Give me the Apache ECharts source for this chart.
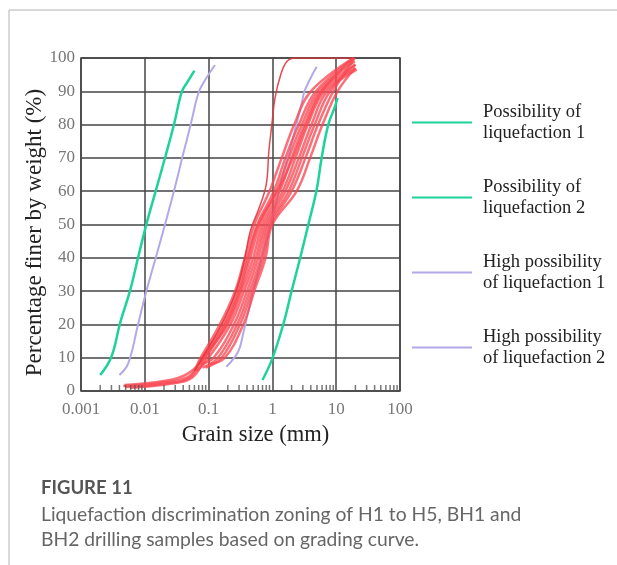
<!DOCTYPE html>
<html>
<head>
<meta charset="utf-8">
<script src="https://cdn.jsdelivr.net/npm/echarts@6/dist/echarts.min.js"></script>
<style>
html,body{margin:0;padding:0;background:#fff;}
#chart{width:617px;height:565px;}
</style>
</head>
<body>
<div id="chart"></div>
<script>
// ---- data (grain size mm, percentage finer %) ----
const xTickValues = [0.001, 0.01, 0.1, 1, 10, 100];
const xTickLabels = ['0.001', '0.01', '0.1', '1', '10', '100'];
const minorFactors = [2, 3, 4, 5, 6, 7, 8, 9];

const legendNames = [
  'Possibility of\nliquefaction 1',
  'Possibility of\nliquefaction 2',
  'High possibility\nof liquefaction 1',
  'High possibility\nof liquefaction 2'
];

const green1 = [[0.002,4.8],[0.003,10.3],[0.0041,20.4],[0.0059,30.3],[0.0079,40.3],[0.0107,50.4],[0.015,60.4],[0.021,70.4],[0.029,80.4],[0.038,89.9],[0.046,92.6],[0.06,96.2]];
const green2 = [[0.70,3.3],[1.0,9.8],[1.48,20],[2.0,30],[2.71,39.8],[3.66,50],[4.94,60.4],[5.9,69.9],[7.5,79.9],[9.6,85.5],[10.5,88]];
const lav1 = [[0.004,4.8],[0.0055,8.3],[0.0079,20.3],[0.0107,30.3],[0.015,40.3],[0.021,50.4],[0.029,60.4],[0.039,70.4],[0.053,80.4],[0.069,89.4],[0.085,92.9],[0.126,97.9]];
const lav2 = [[0.19,7.3],[0.29,11.8],[0.35,17.4],[0.5,30],[0.8,45],[1.2,58],[1.58,67.4],[1.89,72.4],[2.4,80.4],[2.88,86.4],[3.24,90.4],[4.94,97.4]];

const red1 = [[0.0046,1.5],[0.02,2.6],[0.05,4.5],[0.075,10],[0.15,20],[0.26,30],[0.37,40],[0.52,50],[0.9,60],[1.4,70],[2.2,80],[4.0,90],[18.5,100]];
const red2 = [[0.005,1.2],[0.02,2.2],[0.05,4],[0.08,10],[0.17,20],[0.28,30],[0.4,40],[0.58,50],[1.05,60],[1.6,70],[2.6,80],[4.8,90],[19,100]];
const red3 = [[0.006,1.0],[0.025,2.2],[0.055,4],[0.09,10],[0.19,20],[0.31,30],[0.45,40],[0.64,50],[1.15,60],[1.8,70],[2.9,80],[5.3,90],[19.5,99]];
const red4 = [[0.07,8],[0.1,12],[0.2,20],[0.33,30],[0.5,40],[0.7,50],[1.3,60],[2.0,70],[3.2,80],[5.8,90],[20,98]];
const red5 = [[0.065,6],[0.1,10],[0.22,20],[0.36,30],[0.55,40],[0.76,50],[1.45,60],[2.3,70],[3.6,80],[6.5,90],[20,97]];
const red6 = [[0.075,8],[0.12,10],[0.25,20],[0.4,30],[0.6,40],[0.82,50],[1.6,60],[2.6,70],[4.1,80],[7.2,90],[21,96.5]];
const red7 = [[0.08,7],[0.14,10],[0.28,20],[0.44,30],[0.66,40],[0.88,50],[1.8,60],[2.9,70],[4.6,80],[8,90],[20,98]];
const red8 = [[0.09,7],[0.16,10],[0.31,20],[0.48,30],[0.72,40],[0.95,50],[2.0,60],[3.3,70],[5.2,80],[9,90],[19.5,100]];
const red9 = [[0.1,8],[0.18,10],[0.35,20],[0.52,30],[0.78,40],[1.0,50],[2.4,60],[3.9,70],[6.1,80],[10.5,90],[20,97]];
const red10 = [[0.0048,1.8],[0.02,3],[0.045,5],[0.085,10],[0.18,20],[0.3,30],[0.42,40],[0.6,50],[1.2,60],[2.1,70],[3.4,80],[6,90],[19,100]];
const redSteep = [[0.06,6],[0.08,10],[0.16,20],[0.27,30],[0.37,40],[0.45,48],[0.62,55],[0.8,62],[0.88,72],[0.98,80],[1.1,88],[1.35,95],[1.7,99],[2.3,100],[19,100]];

const redCurves = [red1, red2, red3, red4, red5, red6, red7, red8, red9, red10];

// minor tick positions along the x axis (axis decoration)
const minorTicks = [];
xTickValues.slice(0, -1).forEach(d => minorFactors.forEach(f => minorTicks.push([+(d * f).toPrecision(3), 0])));

const chart = echarts.init(document.getElementById('chart'), null, {renderer: 'canvas'});
const serif = '"Liberation Serif", "Times New Roman", serif';
const sans = 'Lato, "Open Sans", sans-serif';

const GREEN = '#1dd39a';
const LAV = '#b3a8e8';
const RED = 'rgba(250,72,82,0.78)';

const series = [
  {name: legendNames[0], type: 'line', data: green1, smooth: 0.4, showSymbol: false, lineStyle: {color: GREEN, width: 2.5}, itemStyle: {color: GREEN}, z: 3},
  {name: legendNames[1], type: 'line', data: green2, smooth: 0.4, showSymbol: false, lineStyle: {color: GREEN, width: 2.5}, itemStyle: {color: GREEN}, z: 3},
  {name: legendNames[2], type: 'line', data: lav1, smooth: 0.4, showSymbol: false, lineStyle: {color: LAV, width: 2}, itemStyle: {color: LAV}, z: 3},
  {name: legendNames[3], type: 'line', data: lav2, smooth: 0.4, showSymbol: false, lineStyle: {color: LAV, width: 2}, itemStyle: {color: LAV}, z: 3}
];
redCurves.forEach((c, i) => series.push({
  name: 'red' + i, type: 'line', data: c, smooth: 0.4, showSymbol: false,
  lineStyle: {color: RED, width: 2.5}, itemStyle: {color: RED}, z: 4
}));
series.push({name: 'redSteep', type: 'line', data: redSteep, smooth: 0.4, showSymbol: false,
  lineStyle: {color: 'rgba(225,55,62,0.9)', width: 1.5}, z: 5});
series.push({name: 'minor', type: 'scatter', data: minorTicks, symbol: 'rect', symbolSize: [1.5, 6],
  symbolOffset: [0, -3], itemStyle: {color: '#555'}, silent: true, z: 6, clip: false});

chart.setOption({
  animation: false,
  backgroundColor: '#fff',
  grid: {left: 81, right: 217, top: 58, bottom: 174, show: true, borderColor: '#444', borderWidth: 1.5, containLabel: false},
  xAxis: {
    type: 'log', logBase: 10, min: 0.001, max: 100,
    name: 'Grain size (mm)', nameLocation: 'middle', nameGap: 33, nameMoveOverlap: false,
    nameTextStyle: {fontFamily: serif, fontSize: 22.5, color: '#222', padding: [0, 0, 0, 30]},
    axisLine: {show: false}, axisTick: {show: false},
    splitLine: {show: true, lineStyle: {color: '#444', width: 1.5}},
    axisLabel: {fontFamily: serif, fontSize: 17, color: '#777', margin: 10,
      formatter: v => { const i = Math.round(Math.log10(v)) + 3; return xTickLabels[i] || ''; }}
  },
  yAxis: {
    type: 'value', min: 0, max: 100, interval: 10,
    name: 'Percentage finer by weight (%)', nameLocation: 'middle', nameGap: 35, nameMoveOverlap: false,
    nameTextStyle: {fontFamily: serif, fontSize: 23, color: '#222', padding: [0, 16, 0, 0]},
    axisLine: {show: false}, axisTick: {show: false},
    splitLine: {show: true, lineStyle: {color: '#444', width: 1.5}},
    axisLabel: {fontFamily: serif, fontSize: 17, color: '#777', margin: 6}
  },
  legend: {
    data: legendNames, orient: 'vertical', left: 407, top: 86,
    icon: 'rect', itemWidth: 60, itemHeight: 2, itemGap: 12,
    textStyle: {fontFamily: serif, fontSize: 18.5, color: '#222', lineHeight: 21, padding: [21, 0, 0, 6]}
  },
  title: {
    text: 'FIGURE 11',
    subtext: 'Liquefaction discrimination zoning of H1 to H5, BH1 and\nBH2 drilling samples based on grading curve.',
    left: 36, top: 474, itemGap: 4,
    textStyle: {fontFamily: sans, fontSize: 18.5, fontWeight: 'bold', color: '#555'},
    subtextStyle: {fontFamily: sans, fontSize: 19.3, color: '#666', lineHeight: 25}
  },
  graphic: [
    {type: 'line', shape: {x1: 9, y1: 10, x2: 617, y2: 10}, style: {stroke: '#ccc', lineWidth: 1.5}},
    {type: 'line', shape: {x1: 9, y1: 10, x2: 9, y2: 565}, style: {stroke: '#ccc', lineWidth: 1.5}}
  ],
  series: series
});
</script>
</body>
</html>
